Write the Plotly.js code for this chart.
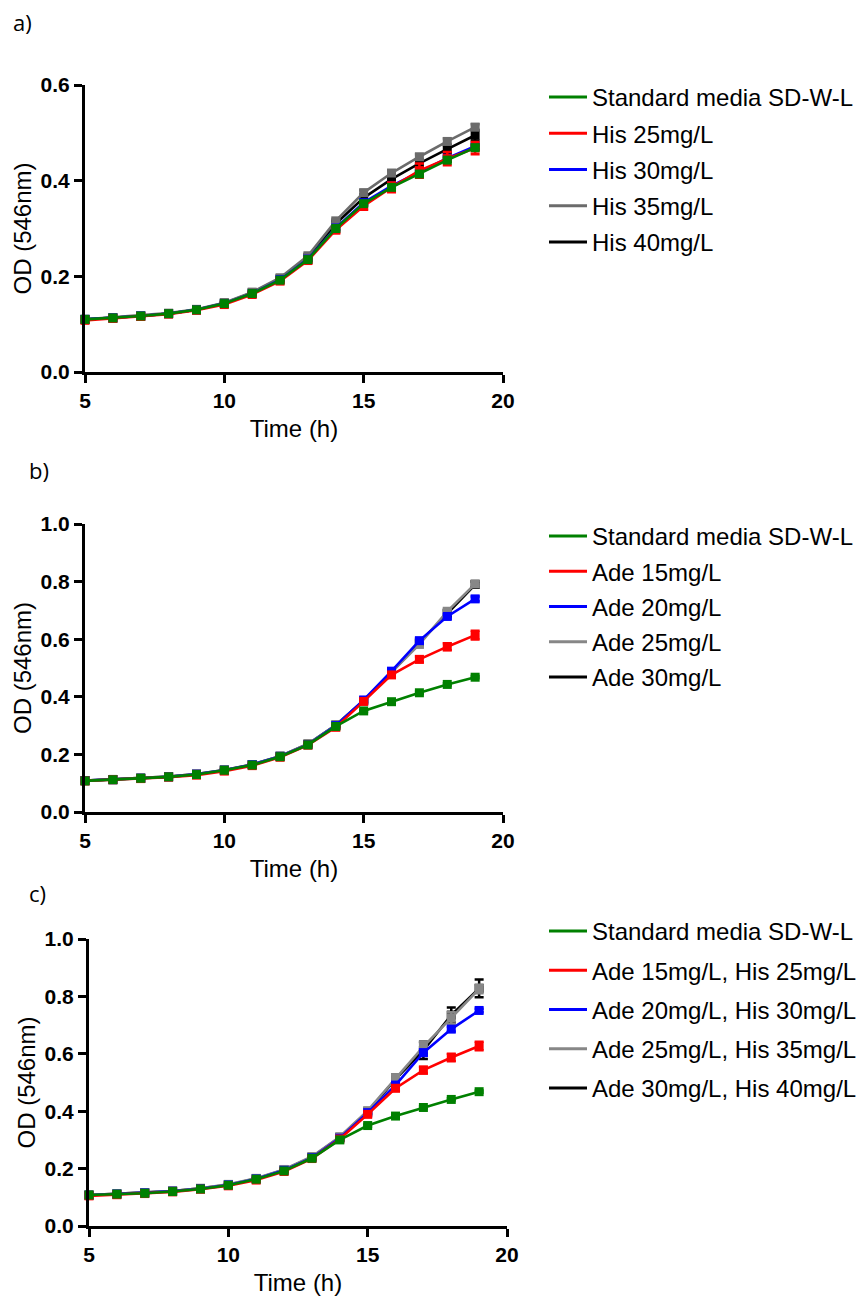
<!DOCTYPE html>
<html>
<head>
<meta charset="utf-8">
<script src="https://cdn.plot.ly/plotly-3.0.1.min.js"></script>
<style>html,body{margin:0;padding:0;background:#fff;}#chart{width:857px;height:1296px;}</style>
</head>
<body>
<div id="chart"></div>
<script>
// ---- data ----
const time = [5, 6, 7, 8, 9, 10, 11, 12, 13, 14, 15, 16, 17, 18, 19];

// panel a) His
const aNames = ["Standard media SD-W-L", "His 25mg/L", "His 30mg/L", "His 35mg/L", "His 40mg/L"];
const aStd   = [0.110,0.113,0.117,0.122,0.130,0.143,0.164,0.192,0.235,0.300,0.352,0.386,0.414,0.443,0.469];
const aHis25 = [0.108,0.112,0.116,0.121,0.129,0.141,0.162,0.190,0.233,0.297,0.347,0.386,0.421,0.446,0.468];
const aHis30 = [0.110,0.113,0.117,0.122,0.130,0.143,0.164,0.193,0.236,0.301,0.354,0.389,0.418,0.447,0.472];
const aHis35 = [0.110,0.114,0.118,0.123,0.131,0.145,0.167,0.197,0.243,0.316,0.375,0.416,0.450,0.482,0.512];
const aHis40 = [0.110,0.113,0.117,0.122,0.130,0.144,0.166,0.195,0.240,0.310,0.364,0.403,0.436,0.466,0.495];
const aStdErr   = [0.001,0.001,0.001,0.001,0.001,0.002,0.002,0.002,0.003,0.004,0.004,0.004,0.004,0.004,0.004];
const aHis25Err = [0.002,0.002,0.002,0.002,0.002,0.003,0.003,0.004,0.005,0.007,0.008,0.010,0.015,0.014,0.013];
const aHis30Err = [0.001,0.001,0.001,0.001,0.001,0.002,0.002,0.002,0.003,0.003,0.004,0.004,0.004,0.004,0.004];
const aHis35Err = [0.001,0.001,0.001,0.001,0.001,0.002,0.002,0.002,0.003,0.004,0.005,0.005,0.005,0.006,0.006];
const aHis40Err = [0.001,0.001,0.001,0.001,0.001,0.002,0.002,0.003,0.003,0.004,0.006,0.007,0.008,0.008,0.011];

// panel b) Ade
const bNames = ["Standard media SD-W-L", "Ade 15mg/L", "Ade 20mg/L", "Ade 25mg/L", "Ade 30mg/L"];
const bStd   = [0.108,0.112,0.117,0.122,0.130,0.145,0.163,0.192,0.233,0.297,0.351,0.383,0.414,0.443,0.468];
const bAde15 = [0.108,0.112,0.116,0.121,0.128,0.142,0.161,0.190,0.232,0.294,0.384,0.476,0.530,0.574,0.614];
const bAde20 = [0.109,0.112,0.117,0.122,0.131,0.145,0.164,0.193,0.234,0.300,0.389,0.489,0.595,0.679,0.740];
const bAde25 = [0.109,0.113,0.117,0.123,0.132,0.146,0.165,0.194,0.236,0.302,0.386,0.486,0.582,0.697,0.792];
const bAde30 = [0.109,0.113,0.118,0.123,0.132,0.146,0.165,0.194,0.236,0.302,0.386,0.485,0.588,0.690,0.790];
const bStdErr   = [0.001,0.001,0.001,0.001,0.001,0.002,0.002,0.002,0.003,0.003,0.004,0.004,0.004,0.004,0.004];
const bAde15Err = [0.001,0.001,0.001,0.001,0.002,0.002,0.002,0.003,0.003,0.004,0.006,0.008,0.010,0.012,0.015];
const bAde20Err = [0.001,0.001,0.001,0.001,0.001,0.002,0.002,0.002,0.003,0.004,0.005,0.006,0.008,0.008,0.008];
const bAde25Err = [0.001,0.001,0.001,0.001,0.001,0.002,0.002,0.002,0.003,0.004,0.005,0.006,0.010,0.008,0.010];
const bAde30Err = [0.001,0.001,0.001,0.001,0.001,0.002,0.002,0.002,0.003,0.004,0.005,0.006,0.008,0.010,0.010];

// panel c) Ade + His
const cNames = ["Standard media SD-W-L", "Ade 15mg/L, His 25mg/L", "Ade 20mg/L, His 30mg/L", "Ade 25mg/L, His 35mg/L", "Ade 30mg/L, His 40mg/L"];
const cStd   = [0.108,0.111,0.114,0.120,0.129,0.142,0.163,0.192,0.236,0.300,0.350,0.383,0.413,0.441,0.468];
const cMix15 = [0.105,0.109,0.113,0.119,0.128,0.140,0.160,0.190,0.235,0.303,0.389,0.480,0.543,0.587,0.627];
const cMix20 = [0.107,0.111,0.115,0.121,0.130,0.143,0.164,0.194,0.238,0.306,0.395,0.491,0.604,0.686,0.751];
const cMix25 = [0.108,0.112,0.116,0.122,0.131,0.145,0.166,0.197,0.242,0.311,0.402,0.515,0.625,0.725,0.826];
const cMix30 = [0.108,0.112,0.116,0.122,0.131,0.144,0.165,0.196,0.240,0.309,0.398,0.512,0.612,0.735,0.828];
const cStdErr   = [0.001,0.001,0.001,0.001,0.001,0.002,0.002,0.002,0.003,0.003,0.004,0.004,0.004,0.004,0.004];
const cMix15Err = [0.001,0.001,0.001,0.001,0.002,0.002,0.002,0.003,0.003,0.004,0.008,0.010,0.012,0.013,0.015];
const cMix20Err = [0.001,0.001,0.001,0.001,0.001,0.002,0.002,0.002,0.003,0.004,0.005,0.007,0.010,0.008,0.006];
const cMix25Err = [0.001,0.001,0.001,0.001,0.001,0.002,0.002,0.003,0.003,0.005,0.007,0.012,0.015,0.020,0.015];
const cMix30Err = [0.001,0.001,0.001,0.001,0.001,0.002,0.002,0.003,0.004,0.006,0.008,0.015,0.030,0.026,0.031];

const xTicks = [5, 10, 15, 20];
const yTicksA = [0, 0.2, 0.4, 0.6];
const yTicksBC = [0, 0.2, 0.4, 0.6, 0.8, 1.0];
const panelLabels = ["a)", "b)", "c)"];

// ---- styling ----
const GREEN = "#008000", RED = "#ff0000", BLUE = "#0000ff", BLACK = "#000000";
const GRAY_A = "#6b6b6b", GRAY_BC = "#878787";
const FONT = "Liberation Sans, Arial, sans-serif";

const traces = [];

function addPanel(axSuffix, legendId, names, series, errs, colors) {
  // legend-only line entries (legend shows plain lines)
  names.forEach((n, i) => {
    traces.push({
      x: [null], y: [null], type: "scatter", mode: "lines", name: n,
      line: {color: colors[i], width: 3},
      legend: legendId, legendgroup: legendId + "_" + i,
      xaxis: "x" + axSuffix, yaxis: "y" + axSuffix, hoverinfo: "skip"
    });
  });
  // data traces: draw order black, gray, blue, red, green (green on top)
  [4, 3, 2, 1, 0].forEach(i => {
    traces.push({
      x: time, y: series[i], type: "scatter", mode: "lines+markers", name: names[i],
      showlegend: false, cliponaxis: false,
      line: {color: colors[i], width: 2.6},
      marker: {symbol: "square", size: 9, color: colors[i]},
      error_y: {type: "data", array: errs[i], visible: true, color: colors[i], thickness: 2.5, width: 4.5},
      xaxis: "x" + axSuffix, yaxis: "y" + axSuffix
    });
  });
}

addPanel("", "legend", aNames, [aStd, aHis25, aHis30, aHis35, aHis40],
  [aStdErr, aHis25Err, aHis30Err, aHis35Err, aHis40Err], [GREEN, RED, BLUE, GRAY_A, BLACK]);
addPanel("2", "legend2", bNames, [bStd, bAde15, bAde20, bAde25, bAde30],
  [bStdErr, bAde15Err, bAde20Err, bAde25Err, bAde30Err], [GREEN, RED, BLUE, GRAY_BC, BLACK]);
addPanel("3", "legend3", cNames, [cStd, cMix15, cMix20, cMix25, cMix30],
  [cStdErr, cMix15Err, cMix20Err, cMix25Err, cMix30Err], [GREEN, RED, BLUE, GRAY_BC, BLACK]);

const W = 857, H = 1296;
const px = v => v / W;
const py = v => 1 - v / H;

function xAxis(x0, x1, anchor) {
  return {
    domain: [px(x0), px(x1)], range: [5, 20], anchor: anchor,
    tickvals: xTicks, ticks: "outside", ticklen: 8, tickwidth: 3, tickcolor: "#000",
    showline: true, linewidth: 3, linecolor: "#000", showgrid: false, zeroline: false,
    tickfont: {family: FONT, size: 21, color: "#000", weight: "bold"},
    title: {text: "Time (h)", font: {family: FONT, size: 24, color: "#000"}, standoff: 9},
    automargin: false, fixedrange: true
  };
}
function yAxis(y0, y1, top, tv, anchor) {
  return {
    domain: [py(y1), py(y0)], range: [0, top], anchor: anchor,
    tickvals: tv, tickformat: ".1f", ticks: "outside", ticklen: 8, tickwidth: 3, tickcolor: "#000",
    showline: true, linewidth: 3, linecolor: "#000", showgrid: false, zeroline: false,
    tickfont: {family: FONT, size: 21, color: "#000", weight: "bold"},
    title: {text: "OD (546nm)", font: {family: FONT, size: 24, color: "#000"}, standoff: 3},
    automargin: false, fixedrange: true
  };
}
function legendAt(topPx, gap) {
  return {
    x: px(544), xanchor: "left", y: py(topPx), yanchor: "top",
    font: {family: FONT, size: 24, color: "#000"},
    bgcolor: "rgba(0,0,0,0)", borderwidth: 0,
    traceorder: "grouped", tracegroupgap: gap, itemwidth: 38
  };
}

const labelFont = {family: "Open Sans, sans-serif", size: 22, color: "#000"};
const layout = {
  width: W, height: H,
  margin: {l: 0, r: 0, t: 0, b: 0, autoexpand: false},
  paper_bgcolor: "#fff", plot_bgcolor: "#fff",
  showlegend: true,
  xaxis:  xAxis(85, 503, "y"),
  yaxis:  yAxis(85, 372, 0.6, yTicksA, "x"),
  xaxis2: xAxis(85, 503, "y2"),
  yaxis2: yAxis(524, 812, 1.0, yTicksBC, "x2"),
  xaxis3: xAxis(89, 507, "y3"),
  yaxis3: yAxis(939, 1226, 1.0, yTicksBC, "x3"),
  legend:  legendAt(75, 2),
  legend2: legendAt(514, 1),
  legend3: legendAt(909, 5),
  annotations: [
    {text: panelLabels[0], xref: "paper", yref: "paper", x: px(11), y: py(22), xanchor: "left", yanchor: "middle", showarrow: false, font: labelFont},
    {text: panelLabels[1], xref: "paper", yref: "paper", x: px(27), y: py(470), xanchor: "left", yanchor: "middle", showarrow: false, font: labelFont},
    {text: panelLabels[2], xref: "paper", yref: "paper", x: px(27), y: py(893), xanchor: "left", yanchor: "middle", showarrow: false, font: labelFont}
  ]
};

Plotly.newPlot("chart", traces, layout, {displayModeBar: false, staticPlot: true});
</script>
</body>
</html>
